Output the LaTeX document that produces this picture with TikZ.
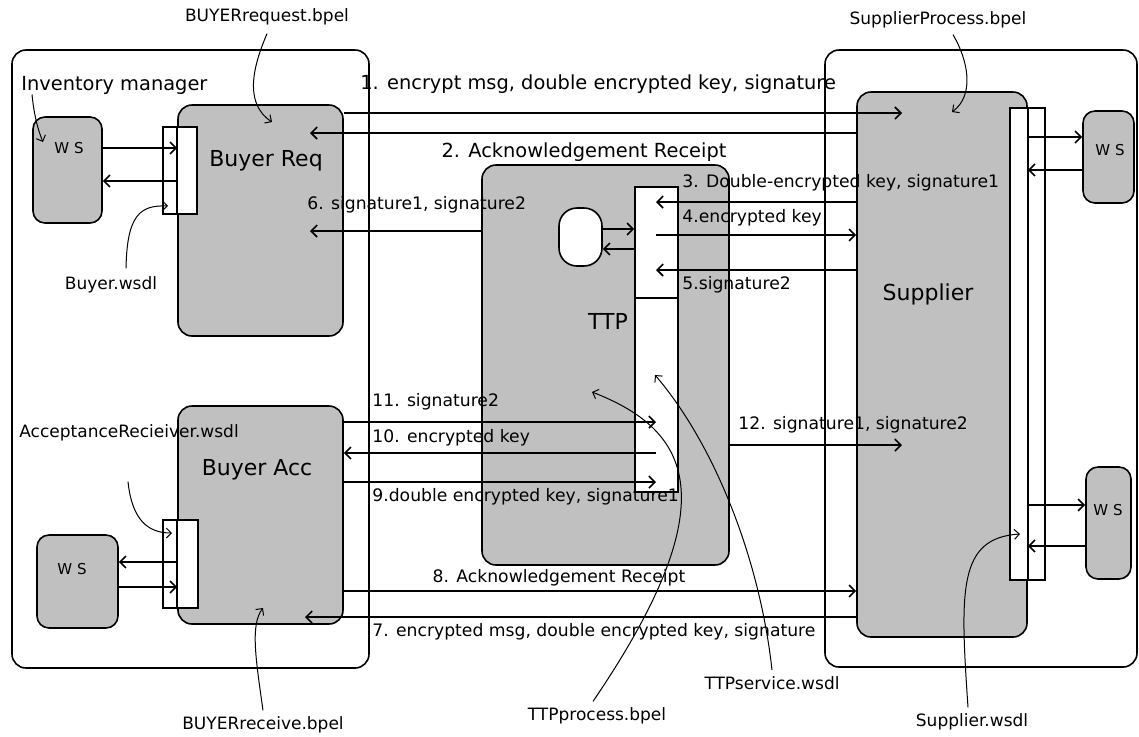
\documentclass[tikz,border=0pt]{standalone}
\usepackage{fontspec}
\setmainfont{DejaVu Sans}
\usepackage{tikz}
\usetikzlibrary{arrows.meta,positioning,fit}
\definecolor{boxgray}{RGB}{192,192,192}

\begin{document}
\begin{tikzpicture}[x=0.5pt,y=-0.5pt,
    outerbox/.style={draw,line width=0.8pt,rounded corners=7pt,inner sep=0pt},
    procbox/.style={draw,fill=boxgray,line width=0.8pt,rounded corners=7pt,inner sep=0pt},
    portbox/.style={draw,fill=white,line width=0.8pt,inner sep=0pt},
    wsbox/.style={draw,fill=boxgray,line width=0.8pt,rounded corners=6pt,inner sep=0pt},
    msgarrow/.style={line width=0.8pt,-{Straight Barb[length=3pt,width=6pt]}},
    noteline/.style={line width=0.5pt,-{Straight Barb[length=2.5pt,width=5pt]}},
    boxname/.style={font=\fontsize{11}{13}\selectfont,inner sep=0pt},
    bigtext/.style={font=\fontsize{9.7}{11}\selectfont,inner sep=0pt},
    msgtext/.style={font=\fontsize{8.6}{10}\selectfont,inner sep=0pt},
    filetext/.style={font=\fontsize{8.5}{10}\selectfont,inner sep=0pt},
    wstext/.style={font=\fontsize{7.5}{9}\selectfont,inner sep=0pt}]
\useasboundingbox (0,0) rectangle (1139,736);

% buyer and supplier domains
\node[outerbox, fit={(12,50) (369,668)}] (buyer) {};
\node[outerbox, fit={(825,50) (1137,667)}] (supplier) {};

% processes
\node[procbox, fit={(178,105) (343,336)}] (breq) {};
\node[procbox, fit={(178,406) (343,624)}] (bacc) {};
\node[procbox, fit={(482,165) (729,565)}] (ttp) {};
\node[procbox, fit={(857,92) (1027,637)}] (sup) {};
\node[boxname] (breqname) at (266,161) {Buyer Req};
\node[boxname] (baccname) at (257,470) {Buyer Acc};
\node[boxname] (ttpname) at (608,321) {TTP};
\node[boxname] (supname) at (928,294) {Supplier};

% ports
\node[portbox, fit={(163,127) (197,214)}] (reqport) {};
\draw[line width=0.8pt] (reqport.north -| breq.west) -- (reqport.south -| breq.west);
\node[portbox, fit={(163,520) (198,608)}] (accport) {};
\draw[line width=0.8pt] (accport.north -| bacc.west) -- (accport.south -| bacc.west);
\node[portbox, fit={(1010,108) (1045,580)}] (support) {};
\draw[line width=0.8pt] (support.north -| sup.east) -- (support.south -| sup.east);
\node[portbox, fit={(635,187) (678,298)}] (ttpport) {};
\node[portbox, fit={(635,298) (678,492)}] (ttpsvc) {};
\node[draw, fill=white, line width=0.8pt, rounded corners=9pt, inner sep=0pt,
      fit={(559,208) (602,266)}] (ttpstore) {};

% web services
\node[wsbox, fit={(33,117) (102,223)}] (ws1) {};
\node[wsbox, fit={(37,535) (118,628)}] (ws2) {};
\node[wsbox, fit={(1083,111) (1134,203)}] (ws3) {};
\node[wsbox, fit={(1086,467) (1131,579)}] (ws4) {};
\node[wstext] (ws1t) at (69,148) {W S};
\node[wstext] (ws2t) at (72,569) {W S};
\node[wstext] (ws3t) at (1110,150) {W S};
\node[wstext] (ws4t) at (1108,510) {W S};

\draw[msgarrow] (ws1.east |- 0,148) -- (breq.west |- 0,148);
\draw[msgarrow] (breq.west |- 0,181) -- (ws1.east |- 0,181);
\draw[msgarrow] (bacc.west |- 0,562) -- (ws2.east |- 0,562);
\draw[msgarrow] (ws2.east |- 0,587) -- (bacc.west |- 0,587);
\draw[msgarrow] (sup.east |- 0,137) -- (ws3.west |- 0,137);
\draw[msgarrow] (ws3.west |- 0,170) -- (sup.east |- 0,170);
\draw[msgarrow] (sup.east |- 0,505) -- (ws4.west |- 0,505);
\draw[msgarrow] (ws4.west |- 0,546) -- (sup.east |- 0,546);
\draw[msgarrow] (ttpstore.east |- 0,229) -- (ttpport.west |- 0,229);
\draw[msgarrow] (ttpport.west |- 0,249) -- (ttpstore.east |- 0,249);

% message flow
\coordinate (reqin) at (310,0);
\coordinate (accin) at (305,0);
\coordinate (supin) at (902,0);
\coordinate (ttpin) at (656,0);
\draw[msgarrow] (breq.east |- 0,113) -- (supin |- 0,113);
\draw[msgarrow] (sup.west |- 0,133) -- (reqin |- 0,133);
\draw[msgarrow] (sup.west |- 0,202) -- (ttpin |- 0,202);
\draw[msgarrow] (ttpin |- 0,235) -- (sup.west |- 0,235);
\draw[msgarrow] (sup.west |- 0,270) -- (ttpin |- 0,270);
\draw[msgarrow] (ttp.west |- 0,231) -- (reqin |- 0,231);
\draw[msgarrow] (sup.west |- 0,617) -- (accin |- 0,617);
\draw[msgarrow] (bacc.east |- 0,591) -- (sup.west |- 0,591);
\draw[msgarrow] (bacc.east |- 0,482) -- (ttpin |- 0,482);
\draw[msgarrow] (ttpin |- 0,453) -- (bacc.east |- 0,453);
\draw[msgarrow] (bacc.east |- 0,422) -- (ttpin |- 0,422);
\draw[msgarrow] (ttp.east |- 0,445) -- (supin |- 0,445);

\node[bigtext, anchor=west] (m1) at (360,84) {1. encrypt msg, double encrypted key, signature};
\node[bigtext] (m2) at (584,152) {2. Acknowledgement Receipt};
\node[msgtext, anchor=west] (m3) at (682,183) {3. Double-encrypted key, signature1};
\node[msgtext, anchor=west] (m4) at (682,218) {4.encrypted key};
\node[msgtext, anchor=west] (m5) at (682,285) {5.signature2};
\node[msgtext, anchor=west] (m6) at (307,205) {6. signature1, signature2};
\node[msgtext, anchor=west] (m7) at (372,632) {7. encrypted msg, double encrypted key, signature};
\node[msgtext] (m8) at (559,578) {8. Acknowledgement Receipt};
\node[msgtext, anchor=west] (m9) at (372,497) {9.double encrypted key, signature1};
\node[msgtext, anchor=west] (m10) at (372,438) {10. encrypted key};
\node[msgtext, anchor=west] (m11) at (372,402) {11. signature2};
\node[msgtext, anchor=west] (m12) at (738,425) {12. signature1, signature2};

% file annotations
\node[bigtext, anchor=west] (inv) at (21,85) {Inventory manager};
\draw[noteline] ([xshift=5.5pt]inv.south west) .. controls (34,115) and (38,130) .. (43,142);
\node[filetext] (reqbpel) at (267,17) {BUYERrequest.bpel};
\draw[noteline] ([yshift=-4pt]reqbpel.south) .. controls (255,62) and (242,102) .. (272,122);
\node[filetext] (buyerwsdl) at (111,285) {Buyer.wsdl};
\draw[noteline] ([xshift=7.5pt,yshift=4pt]buyerwsdl.north) .. controls (127,215) and (140,205) .. (168,206);
\node[filetext, anchor=west] (accwsdl) at (19,433) {AcceptanceRecieiver.wsdl};
\draw[noteline] ([xshift=54.5pt,yshift=-20pt]accwsdl.south west) .. controls (132,520) and (148,533) .. (172,533);
\node[filetext] (recvbpel) at (263,725) {BUYERreceive.bpel};
\draw[noteline] ([yshift=3pt]recvbpel.north) .. controls (256,660) and (250,625) .. (263,608);
\node[filetext] (ttpbpel) at (597,716) {TTPprocess.bpel};
\draw[noteline] ([xshift=-2pt,yshift=3pt]ttpbpel.north) .. controls (730,500) and (690,430) .. (592,392);
\node[filetext] (ttpwsdl) at (772,683) {TTPservice.wsdl};
\draw[noteline] ([yshift=3pt]ttpwsdl.north) .. controls (760,560) and (715,445) .. (655,375);
\node[filetext] (supbpel) at (938,20) {SupplierProcess.bpel};
\draw[noteline] ([xshift=7.5pt,yshift=-3pt]supbpel.south) .. controls (968,60) and (975,95) .. (952,112);
\node[filetext] (supwsdl) at (972,722) {Supplier.wsdl};
\draw[noteline] ([xshift=-2pt,yshift=3pt]supwsdl.north) .. controls (960,590) and (958,538) .. (1020,534);
\end{tikzpicture}
\end{document}
